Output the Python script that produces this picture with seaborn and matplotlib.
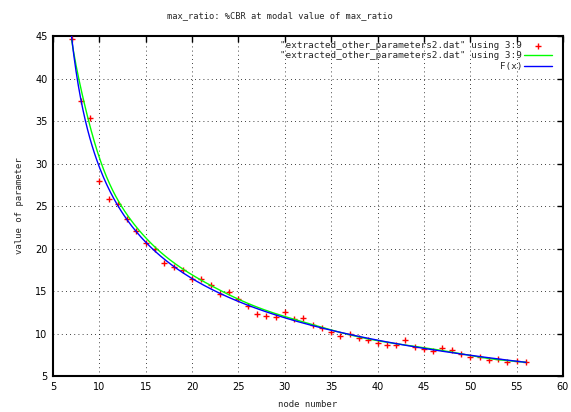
import matplotlib
matplotlib.use("Agg")
import matplotlib.pyplot as plt
import numpy as np
import pandas as pd
import seaborn as sns
from math import comb

# node number (column 3) and value of parameter (column 9)
node = [7, 8, 9, 10, 11, 12, 13, 14, 15, 16, 17, 18, 19, 20, 21, 22, 23, 24, 25, 26,
        27, 28, 29, 30, 31, 32, 33, 34, 35, 36, 37, 38, 39, 40, 41, 42, 43, 44, 45, 46,
        47, 48, 49, 50, 51, 52, 53, 54, 55, 56]
value = [44.6, 37.4, 35.4, 27.9, 25.8, 25.2, 23.5, 22.1, 20.7, 19.9, 18.3, 17.8, 17.5,
         16.4, 16.4, 15.7, 14.6, 14.9, 14.1, 13.2, 12.3, 12.1, 11.9, 12.5, 11.7, 11.8,
         11.0, 10.7, 10.2, 9.7, 9.9, 9.5, 9.2, 8.9, 8.7, 8.7, 9.2, 8.4, 8.2, 7.9, 8.3,
         8.1, 7.6, 7.2, 7.2, 6.9, 7.0, 6.7, 6.8, 6.6]
x_ticks = [5, 10, 15, 20, 25, 30, 35, 40, 45, 50, 55, 60]
y_ticks = [5, 10, 15, 20, 25, 30, 35, 40, 45]

title = "max_ratio: %CBR at modal value of max_ratio"
data_label = '"extracted_other_parameters2.dat" using 3:9'

df = pd.DataFrame({"node": node, "value": value})
x = df["node"].to_numpy(float)
y = df["value"].to_numpy(float)


# gnuplot-like "smooth bezier" through the data points
def bezier(px, py, n=300):
    deg = len(px) - 1
    t = np.linspace(0, 1, n)
    bx = np.zeros(n)
    by = np.zeros(n)
    for i in range(deg + 1):
        w = comb(deg, i) * t ** i * (1 - t) ** (deg - i)
        bx += w * px[i]
        by += w * py[i]
    return bx, by


# least squares fit of F(x) = a*(x - x0)^b + c (linear in a, c for fixed b, x0)
def fit_power(px, py):
    best = None
    for x0 in np.linspace(-6, 6.8, 129):
        lx = px - x0
        for b in np.linspace(-3, -0.2, 141):
            A = np.column_stack([lx ** b, np.ones_like(px)])
            coef, *_ = np.linalg.lstsq(A, py, rcond=None)
            sse = ((A @ coef - py) ** 2).sum()
            if best is None or sse < best[0]:
                best = (sse, coef[0], b, coef[1], x0)
    return best[1:]


bx, by = bezier(x, y)
a, b, c, x0 = fit_power(x, y)
fx = np.linspace(x.min(), x.max(), 400)
fy = a * (fx - x0) ** b + c

sns.set_style("white")
plt.rcParams["font.family"] = "DejaVu Sans"
mono = "DejaVu Sans Mono"

fig = plt.figure(figsize=(5.71, 4.12), dpi=100)
ax = fig.add_axes([53 / 571, 36 / 412, 510 / 571, 340 / 412])

sns.scatterplot(data=df, x="node", y="value", marker="+", color="red", s=22,
                linewidth=1, ax=ax, label=data_label, zorder=3)
sns.lineplot(x=bx, y=by, color="#00ff00", lw=1, sort=False, estimator=None,
             ax=ax, label=data_label, zorder=4)
sns.lineplot(x=fx, y=fy, color="#0000ff", lw=1, sort=False, estimator=None,
             ax=ax, label="F(x)", zorder=5)

ax.set_xlim(5, 60)
ax.set_ylim(5, 45)
ax.set_xticks(x_ticks)
ax.set_yticks(y_ticks)
ax.grid(True, color="black", linestyle=(0, (1, 4)), linewidth=0.6)
ax.tick_params(direction="in", length=4, width=1, top=True, right=True,
               labelsize=7, pad=4, colors="black")
for sp in ax.spines.values():
    sp.set_linewidth(1.5)
    sp.set_color("black")

ax.set_xlabel("node number", fontfamily=mono, fontsize=6.5, labelpad=6)
ax.set_ylabel("value of parameter", fontfamily=mono, fontsize=6.5, labelpad=8)
fig.text(280 / 571, 1 - 16 / 412, title, fontfamily=mono, fontsize=6.3,
         ha="center", va="center")

handles, labels = ax.get_legend_handles_labels()
ax.legend(handles, labels, loc="upper right", bbox_to_anchor=(1 - 5 / 510, 1 + 1 / 340),
          frameon=False, markerfirst=False,
          prop={"family": mono, "size": 6.7}, handlelength=3.0,
          handletextpad=0.2, labelspacing=0.15, borderaxespad=0.25)

fig.savefig("out.png", dpi=100)
